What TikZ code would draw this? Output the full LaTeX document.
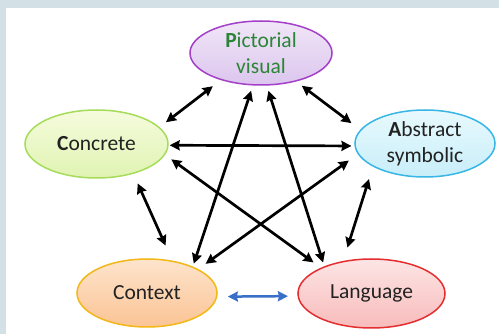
\documentclass[tikz,border=0pt]{standalone}
\usepackage{fontspec}
\setmainfont{Carlito}
\usetikzlibrary{shapes.geometric,arrows.meta}
\definecolor{bgc}{HTML}{D3E0E6}
\definecolor{txt}{HTML}{222222}
\definecolor{picgreen}{HTML}{2A8636}
\definecolor{picline}{HTML}{A43FC8}
\definecolor{pictop}{HTML}{F1E6F8}
\definecolor{picbot}{HTML}{DCC6EE}
\definecolor{conline}{HTML}{A6DC5A}
\definecolor{contop}{HTML}{F5FCDD}
\definecolor{conbot}{HTML}{E0F3B2}
\definecolor{absline}{HTML}{38B6E6}
\definecolor{abstop}{HTML}{E8F9FD}
\definecolor{absbot}{HTML}{C8EEF9}
\definecolor{ctxline}{HTML}{F2B817}
\definecolor{ctxtop}{HTML}{FDE4CC}
\definecolor{ctxbot}{HTML}{FBC495}
\definecolor{langline}{HTML}{E52D30}
\definecolor{langtop}{HTML}{FDE5E5}
\definecolor{langbot}{HTML}{F8BBBB}
\definecolor{bluearrow}{HTML}{3A6FC8}
\tikzset{
  bubble/.style={ellipse, draw, line width=1.5pt, inner sep=0pt, align=center,
    font=\fontsize{21.5}{26}\selectfont, text=txt},
  link/.style={line width=2.7pt, draw=black,
    {Stealth[length=10pt,width=10pt,inset=1pt]}-{Stealth[length=10pt,width=10pt,inset=1pt]}},
  bluelink/.style={line width=2.5pt, draw=bluearrow,
    {Stealth[length=10pt,width=10pt,inset=1pt]}-{Stealth[length=10pt,width=10pt,inset=1pt]}},
}
\begin{document}
\begin{tikzpicture}[x=1pt,y=-1pt]
\useasboundingbox (0,0) rectangle (499,334);
\fill[bgc] (0,0) rectangle (499,334);
\fill[white] (6,8) rectangle (499,334);

\node[bubble, draw=picline, top color=pictop, bottom color=picbot, text=picgreen,
  minimum width=142pt, minimum height=64pt] (pic) at (261,53) {\textbf{P}ictorial\\visual};
\node[bubble, draw=conline, top color=contop, bottom color=conbot,
  minimum width=143pt, minimum height=68pt] (con) at (96.5,144) {\textbf{C}oncrete};
\node[bubble, draw=absline, top color=abstop, bottom color=absbot,
  minimum width=140pt, minimum height=67pt] (abs) at (425,143.5) {\textbf{A}bstract\\symbolic};
\node[bubble, draw=ctxline, top color=ctxtop, bottom color=ctxbot,
  minimum width=140pt, minimum height=68pt] (ctx) at (147,293) {Context};
\node[bubble, draw=langline, top color=langtop, bottom color=langbot,
  minimum width=147pt, minimum height=69pt] (lang) at (371.5,293.5) {Language};

\draw[link, shorten <=10pt, shorten >=8pt] (pic.-146) -- (con.15);
\draw[link, shorten <=7pt, shorten >=11pt] (pic.-39) -- (abs.168);
\draw[link, shorten <=1pt, shorten >=3pt] (con.-1.5) -- (abs.182.5);
\draw[link, shorten <=10.5pt, shorten >=16.5pt] (con.-39) -- (ctx.52);
\draw[link, shorten <=13pt, shorten >=14pt] (abs.204) -- (lang.131);
\draw[bluelink, shorten <=10.5pt, shorten >=9.5pt] (ctx.-3.3) -- (lang.182.7);
\draw[link, shorten <=5.5pt, shorten >=3pt] (pic.-104.5) -- (ctx.30);
\draw[link, shorten <=5.4pt, shorten >=4pt] (pic.-80.4) -- (lang.150.7);
\draw[link, shorten <=7.6pt, shorten >=9pt] (con.-9.8) -- (lang.153.3);
\draw[link, shorten <=11pt, shorten >=9pt] (abs.189.2) -- (ctx.25.1);
\end{tikzpicture}
\end{document}
